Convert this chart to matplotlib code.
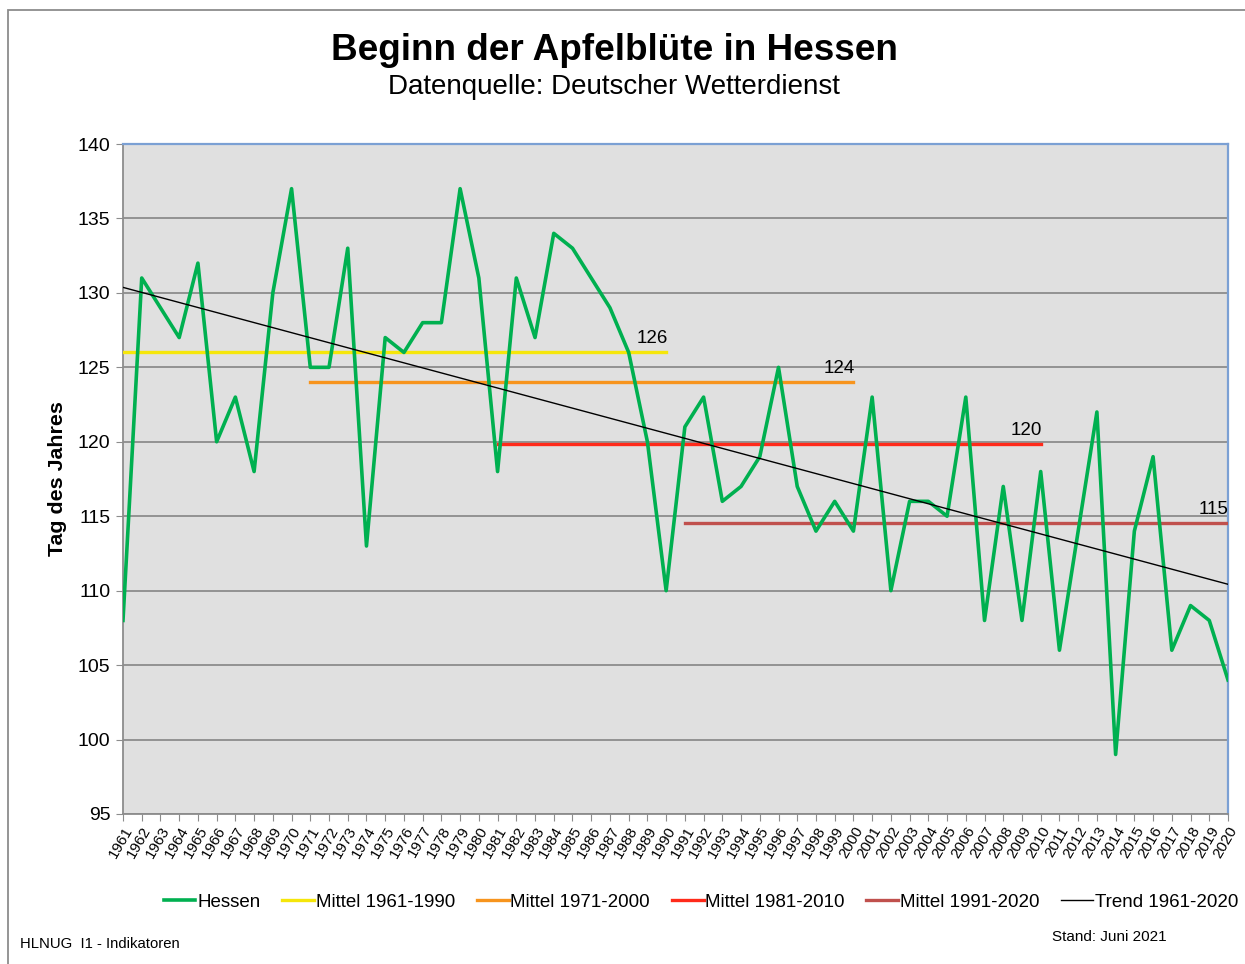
import matplotlib
matplotlib.use("Agg")
import matplotlib.pyplot as plt
import matplotlib.patches as mpatches
import numpy as np

plt.rcParams['font.family'] = ['Liberation Sans', 'DejaVu Sans']

years = list(range(1961, 2021))
hessen = [108, 131, 129, 127, 132, 120, 123, 118, 130, 137,
          125, 125, 133, 113, 127, 126, 128, 128, 137, 131,
          118, 131, 127, 134, 133, 131, 129, 126, 120, 110,
          121, 123, 116, 117, 119, 125, 117, 114, 116, 114,
          123, 110, 116, 116, 115, 123, 108, 117, 108, 118,
          106, 114, 122, 99, 114, 119, 106, 109, 108, 104]

mean_periods = [(1961, 1990), (1971, 2000), (1981, 2010), (1991, 2020)]
mean_values = [126.0, 124.0, 119.85, 114.55]
mean_labels = ["126", "124", "120", "115"]
mean_names = ["Mittel 1961-1990", "Mittel 1971-2000", "Mittel 1981-2010", "Mittel 1991-2020"]
mean_colors = ["#F5E60A", "#F7941D", "#FF2A1A", "#C0504D"]

W, H = 1245, 964
fig = plt.figure(figsize=(W / 100, H / 100), dpi=100)

# outer frame
fig.patches.append(mpatches.Rectangle((8 / W, -0.1), 1.2, 1 - 10 / H + 0.1,
                                      transform=fig.transFigure, fill=False,
                                      edgecolor="#8C8C8C", linewidth=1.3))

ax = fig.add_axes([123 / W, 1 - 814 / H, (1228 - 123) / W, (814 - 144) / H])
ax.set_facecolor("#E0E0E0")

ax.set_xlim(1961, 2020)
ax.set_ylim(95, 140)
ax.set_yticks(range(95, 141, 5))
ax.set_xticks(years)
ax.set_xticklabels([str(y) for y in years], rotation=60, ha="right",
                   rotation_mode="anchor", fontsize=11)
ax.tick_params(axis="y", labelsize=14, length=5, color="#8C8C8C", pad=4)
ax.tick_params(axis="x", length=5, color="#8C8C8C", pad=2)
ax.yaxis.grid(True, color="#8C8C8C", linewidth=1.3)
ax.set_axisbelow(True)

for s in ["left", "bottom"]:
    ax.spines[s].set_color("#8C8C8C")
    ax.spines[s].set_linewidth(1.3)
for s in ["top", "right"]:
    ax.spines[s].set_color("#7BA0D4")
    ax.spines[s].set_linewidth(1.6)

handles = []
h, = ax.plot(years, hessen, color="#00B050", linewidth=2.6, label="Hessen", zorder=4)
handles.append(h)
for (a, b), v, lab, name, c in zip(mean_periods, mean_values, mean_labels, mean_names, mean_colors):
    h, = ax.plot([a, b], [v, v], color=c, linewidth=2.4, label=name, zorder=3)
    handles.append(h)
    ax.text(b - 0.75, v + 0.35, lab, ha="center", va="bottom", fontsize=13.5, zorder=6)

coef = np.polyfit(years, hessen, 1)
tx = np.array([1961, 2020])
h, = ax.plot(tx, np.polyval(coef, tx), color="black", linewidth=1.0,
             label="Trend 1961-2020", zorder=5)
handles.append(h)

ax.set_ylabel("Tag des Jahres", fontsize=15.4, fontweight="bold", labelpad=8)

fig.text(614 / W, 1 - 50 / H, "Beginn der Apfelblüte in Hessen", ha="center", va="center",
         fontsize=26.6, fontweight="bold")
fig.text(614 / W, 1 - 87 / H, "Datenquelle: Deutscher Wetterdienst", ha="center", va="center",
         fontsize=20)

leg = fig.legend(handles=handles, loc="center", bbox_to_anchor=(701 / W, 1 - 902 / H),
                 ncol=6, frameon=False, fontsize=13.5, handlelength=1.7, handletextpad=0.1,
                 columnspacing=1.15, borderaxespad=0)

fig.text(20 / W, 1 - 944 / H, "HLNUG  I1 - Indikatoren", ha="left", va="center", fontsize=10.7)
fig.text(1052 / W, 1 - 937 / H, "Stand: Juni 2021", ha="left", va="center", fontsize=11)

fig.savefig("out.png", dpi=100)
